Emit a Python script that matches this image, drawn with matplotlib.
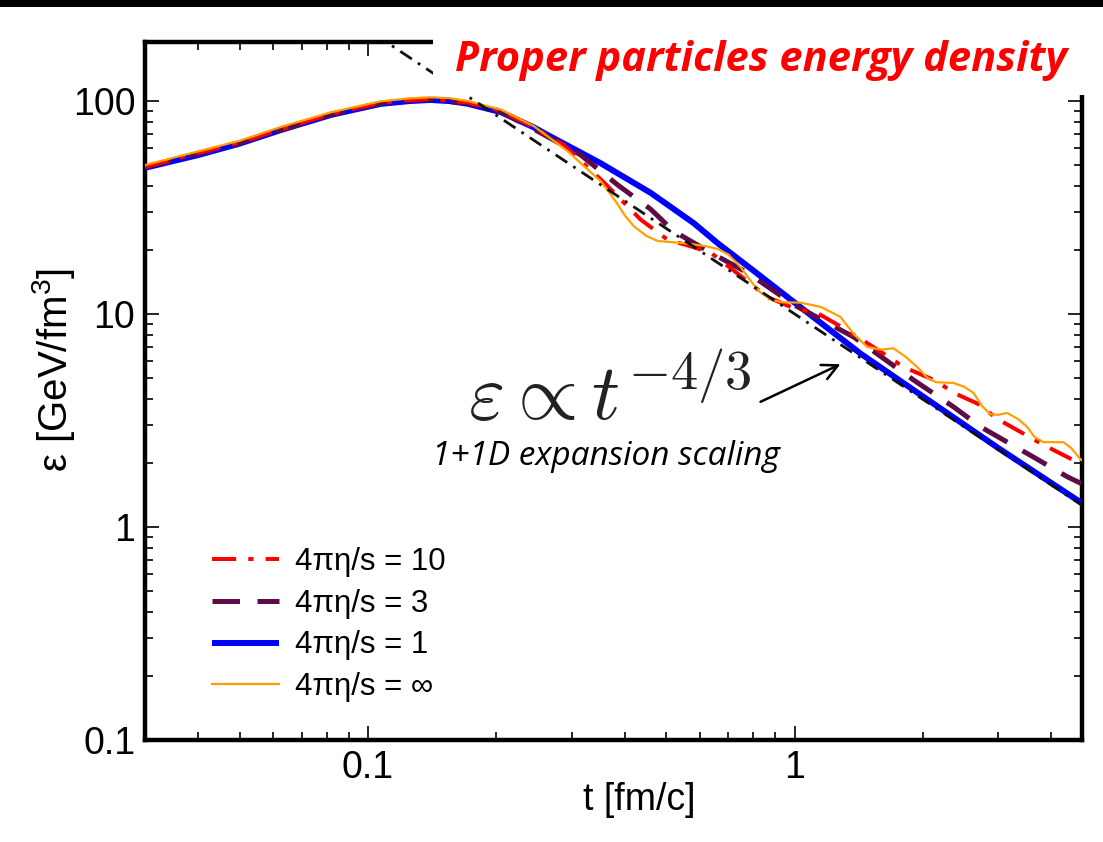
import numpy as np
import matplotlib
matplotlib.use("Agg")
import matplotlib.pyplot as plt
from matplotlib.patches import Rectangle
from matplotlib.ticker import LogLocator, NullFormatter, FixedLocator, FixedFormatter

plt.rcParams['font.family'] = ['Liberation Sans', 'DejaVu Sans']
plt.rcParams['mathtext.fontset'] = 'custom'
plt.rcParams['mathtext.rm'] = 'Liberation Sans'
plt.rcParams['mathtext.it'] = 'Liberation Sans:italic'

# ---------------- data ----------------
blue_t = [0.030, 0.040, 0.050, 0.0625, 0.082, 0.107, 0.125, 0.14, 0.155, 0.171, 0.205, 0.245,
          0.268, 0.351, 0.46, 0.58, 0.66, 0.80, 1.03, 1.43, 2.0, 3.0, 4.7]
blue_e = [48.5, 55.7, 63.0, 73.0, 86.0, 96.8, 99.8, 101.0, 99.8, 97.0, 88.5, 75.0,
          68.0, 51.0, 37.0, 26.7, 21.5, 16.0, 10.8, 6.5, 4.1, 2.35, 1.30]

orange_t = [0.030, 0.050, 0.0625, 0.082, 0.107, 0.125, 0.14, 0.155, 0.171, 0.205, 0.245, 0.294,
            0.351, 0.38, 0.40, 0.42, 0.45, 0.478, 0.532, 0.56, 0.62, 0.66, 0.70, 0.747, 0.80,
            0.832, 0.88, 0.93, 1.03, 1.15, 1.28, 1.38, 1.48, 1.60, 1.705, 1.82, 1.94, 2.05,
            2.15, 2.36, 2.50, 2.63, 2.75, 2.88, 3.00, 3.15, 3.35, 3.51, 3.65, 3.83, 4.05,
            4.27, 4.45, 4.70]
orange_e = [50.0, 65.0, 75.5, 88.5, 99.5, 102.8, 104.0, 103.0, 100.0, 91.0, 76.0, 58.0,
            42.0, 34.0, 29.0, 25.8, 23.2, 22.0, 21.6, 21.4, 20.8, 20.2, 19.0, 16.6, 13.8,
            12.6, 11.7, 11.35, 11.3, 10.8, 9.7, 8.0, 7.0, 6.8, 6.9, 6.3, 5.63, 5.0,
            4.78, 4.74, 4.55, 4.25, 3.7, 3.38, 3.36, 3.43, 3.2, 2.95, 2.65, 2.5, 2.5,
            2.5, 2.35, 2.06]

red_t = [0.030, 0.050, 0.082, 0.107, 0.125, 0.14, 0.171, 0.205, 0.245, 0.288, 0.357, 0.436,
         0.504, 0.56, 0.636, 0.75, 0.864, 1.0, 1.13, 1.25, 1.405, 1.6, 1.8, 2.12, 2.4, 2.68,
         3.0, 3.39, 3.8, 4.42, 4.7]
red_e = [49.0, 64.0, 87.0, 98.0, 101.0, 102.0, 98.5, 90.0, 75.0, 62.0, 41.5, 27.7,
         22.3, 21.0, 19.4, 15.0, 12.0, 10.6, 10.1, 9.0, 7.8, 6.6, 5.64, 4.9, 4.2, 3.8,
         3.2, 2.79, 2.45, 2.1, 1.95]

purple_t = [0.030, 0.050, 0.082, 0.107, 0.125, 0.14, 0.171, 0.205, 0.25, 0.315, 0.385, 0.46,
            0.52, 0.636, 0.776, 1.0, 1.375, 1.9, 2.36, 2.73, 3.63, 4.36, 4.7]
purple_e = [48.8, 63.5, 86.5, 97.5, 100.5, 101.5, 97.5, 89.0, 72.0, 55.8, 40.3, 31.0,
            24.5, 19.4, 15.6, 11.0, 7.8, 4.9, 3.66, 2.95, 2.13, 1.72, 1.60]

ref_t = [0.09, 5.0]          # eps ∝ t^(-4/3) guide line end points
ref_e = [248.0, 1.17]

labels = ["4πη/s = 10", "4πη/s = 3", "4πη/s = 1", "4πη/s = ∞"]
xtick_vals = [0.1, 1]
xtick_labels = ["0.1", "1"]
ytick_vals = [0.1, 1, 10, 100]
ytick_labels = ["0.1", "1", "10", "100"]

# ---------------- figure ----------------
W, H = 1103, 842
fig = plt.figure(figsize=(W / 100, H / 100), dpi=100)
ax = fig.add_axes([145 / W, 1 - 740 / H, (1082 - 145) / W, (740 - 41.5) / H])
ax.set_xscale('log')
ax.set_yscale('log')
ax.set_xlim(0.03, 4.72)
ax.set_ylim(0.1, 190)

l_blue, = ax.plot(blue_t, blue_e, color='#0000ff', lw=4.3, solid_capstyle='butt', zorder=3)
l_purple, = ax.plot(purple_t, purple_e, color='#5e0c48', lw=3.6, dashes=(5.5, 3.5), zorder=4)
l_red, = ax.plot(red_t, red_e, color='#ff0000', lw=2.9, dashes=(6, 3, 1.3, 3), zorder=5)
l_orange, = ax.plot(orange_t, orange_e, color='#ffa000', lw=1.6, zorder=6)
ax.plot(ref_t, ref_e, color='#111111', lw=2.0, dashes=(5, 2.6, 1, 2.6), zorder=7)

# axes styling
for sp in ax.spines.values():
    sp.set_linewidth(3.2)
ax.tick_params(which='both', direction='in', top=True, right=True, width=1.2, colors='black')
ax.tick_params(which='major', length=10, pad=7, labelsize=27)
ax.tick_params(which='minor', length=5.5)
ax.xaxis.set_major_locator(FixedLocator(xtick_vals))
ax.xaxis.set_major_formatter(FixedFormatter(xtick_labels))
ax.yaxis.set_major_locator(FixedLocator(ytick_vals))
ax.yaxis.set_major_formatter(FixedFormatter(ytick_labels))
ax.xaxis.set_minor_locator(LogLocator(base=10, subs=np.arange(2, 10)))
ax.yaxis.set_minor_locator(LogLocator(base=10, subs=np.arange(2, 10)))
ax.xaxis.set_minor_formatter(NullFormatter())
ax.yaxis.set_minor_formatter(NullFormatter())

ax.set_xlabel("t [fm/c]", fontsize=27)
ax.set_ylabel("ε [GeV/fm$^3$]", fontsize=29)
ax.xaxis.set_label_coords(0.528, -0.06)
ax.yaxis.set_label_coords(-0.073, 0.53)

leg = ax.legend([l_red, l_purple, l_blue, l_orange], labels, loc='lower left',
                bbox_to_anchor=(0.058, 0.036), frameon=False, fontsize=22.5,
                handlelength=2.15, handletextpad=0.5, labelspacing=0.38, borderaxespad=0)

# annotation
fig.text(468 / W, 1 - 420 / H, r"$\varepsilon \propto t^{-4/3}$", fontsize=56,
         color='#222222', ha='left', va='baseline',
         math_fontfamily='cm')
fig.text(432 / W, 1 - 465 / H, "1+1D expansion scaling", fontsize=24, style='italic',
         family=['Open Sans', 'DejaVu Sans'], ha='left', va='baseline', color='black')
ax.annotate("", xy=(843 / W, 1 - 363 / H), xycoords='figure fraction',
            xytext=(758 / W, 1 - 403 / H), textcoords='figure fraction',
            arrowprops=dict(arrowstyle='->', color='black', lw=1.8, mutation_scale=28))

# title box and top bar
fig.add_artist(Rectangle((433 / W, 1 - 95 / H), 1 - 433 / W, 95 / H, transform=fig.transFigure,
                         facecolor='white', edgecolor='none', zorder=20))
fig.add_artist(Rectangle((0, 1 - 7 / H), 1, 7 / H, transform=fig.transFigure,
                         facecolor='black', edgecolor='none', zorder=21))
fig.text(455 / W, 1 - 71 / H, "Proper particles energy density", fontsize=30,
         fontweight='bold', style='italic', color='#ff0000',
         family=['Open Sans', 'DejaVu Sans'], ha='left', va='baseline', zorder=22)

fig.savefig("out.png", dpi=100)
